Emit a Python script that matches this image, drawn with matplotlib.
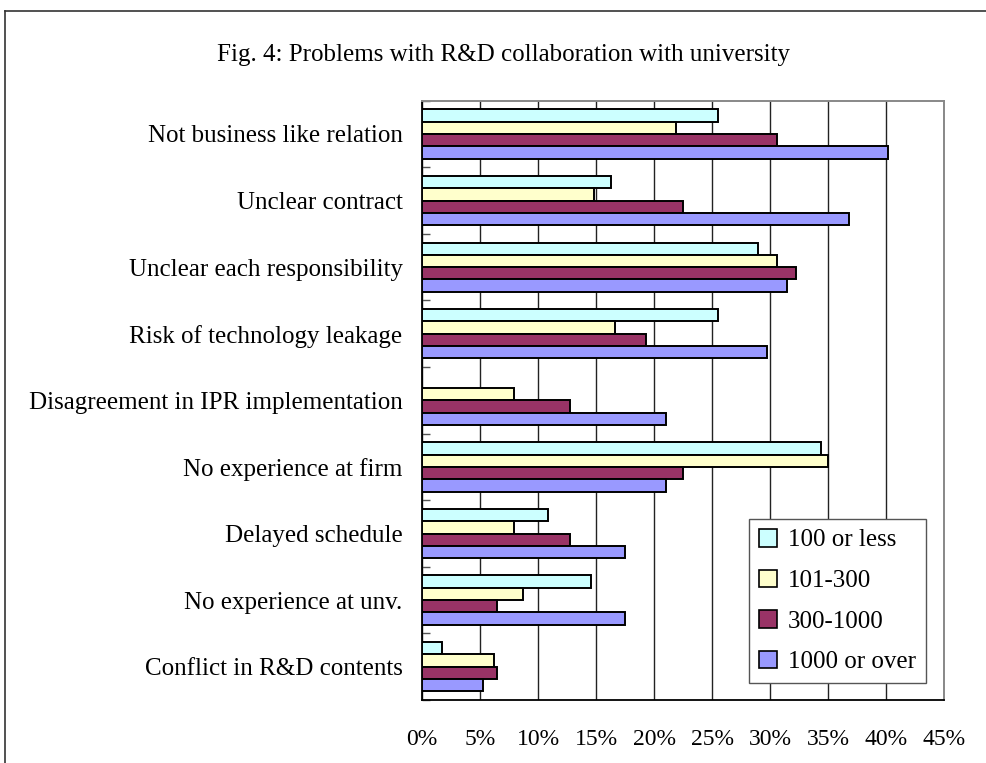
import matplotlib
matplotlib.use("Agg")
import matplotlib.pyplot as plt
from matplotlib.lines import Line2D
from matplotlib.ticker import FixedLocator
import numpy as np

plt.rcParams['font.family'] = ['Liberation Serif', 'DejaVu Serif']

categories = ['Not business like relation', 'Unclear contract',
              'Unclear each responsibility', 'Risk of technology leakage',
              'Disagreement in IPR implementation', 'No experience at firm',
              'Delayed schedule', 'No experience at unv.',
              'Conflict in R&D contents']
series_names = ['100 or less', '101-300', '300-1000', '1000 or over']
size_100_or_less = [25.5, 16.3, 29.0, 25.5, 0.0, 34.4, 10.9, 14.6, 1.7]
size_101_300 = [21.9, 14.8, 30.6, 16.6, 7.9, 35.0, 7.9, 8.7, 6.2]
size_300_1000 = [30.6, 22.5, 32.2, 19.3, 12.8, 22.5, 12.8, 6.5, 6.5]
size_1000_over = [40.2, 36.8, 31.5, 29.7, 21.0, 21.0, 17.5, 17.5, 5.3]
x_ticks = [0, 5, 10, 15, 20, 25, 30, 35, 40, 45]

colors = ['#CCFFFF', '#FFFFCC', '#993366', '#9999FF']
values = [size_100_or_less, size_101_300, size_300_1000, size_1000_over]

W, H = 986, 763
fig = plt.figure(figsize=(W / 100, H / 100), dpi=100)
ax = fig.add_axes([422 / W, 1 - 700 / H, (944 - 422) / W, (700 - 100.7) / H])

y = np.arange(len(categories))
h = 0.185
for k, (vals, col, name) in enumerate(zip(values, colors, series_names)):
    ax.barh(y + (k - 1.5) * h, vals, height=h, color=col, edgecolor='black',
            linewidth=1.4, label=name, zorder=3)

ax.set_xlim(0, 45)
ax.set_ylim(len(categories) - 0.5, -0.5)

ax.set_xticks(x_ticks)
ax.set_xticklabels([f'{t}%' for t in x_ticks], fontsize=17)
ax.tick_params(axis='x', length=0, pad=21)
ax.xaxis.grid(True, color='#222222', linewidth=1.0, zorder=0)

ax.set_yticks(y)
ax.set_yticklabels(categories, fontsize=18)
ax.tick_params(axis='y', which='major', length=0, pad=14)
ax.yaxis.set_minor_locator(FixedLocator(np.arange(-0.5, len(categories), 1.0)))
ax.tick_params(axis='y', which='minor', direction='in', length=6,
               width=1, color='#555555')

for side in ['top', 'right']:
    ax.spines[side].set_color('#888888')
    ax.spines[side].set_linewidth(1.4)
for side in ['left', 'bottom']:
    ax.spines[side].set_color('black')
    ax.spines[side].set_linewidth(1.3)

leg = ax.legend(loc='upper left', bbox_to_anchor=(749 / W, 1 - 519 / H),
                bbox_transform=fig.transFigure, fontsize=18, frameon=True,
                fancybox=False, edgecolor='#555555', framealpha=1,
                borderaxespad=0, borderpad=0.4, labelspacing=0.72,
                handlelength=0.7, handleheight=0.7, handletextpad=0.45)
leg.get_frame().set_linewidth(1.0)
for patch in leg.get_patches():
    patch.set_linewidth(1.2)

fig.text(503.5 / W, 1 - 55 / H,
         'Fig. 4: Problems with R&D collaboration with university',
         ha='center', va='center', fontsize=18)

# outer frame of the figure, left and top edges
fig.add_artist(Line2D([5 / W, 5 / W], [0, 1 - 11 / H], transform=fig.transFigure,
                      color='#333333', linewidth=1.2))
fig.add_artist(Line2D([5 / W, 1], [1 - 11 / H, 1 - 11 / H], transform=fig.transFigure,
                      color='#333333', linewidth=1.2))

fig.savefig('out.png', dpi=100)
